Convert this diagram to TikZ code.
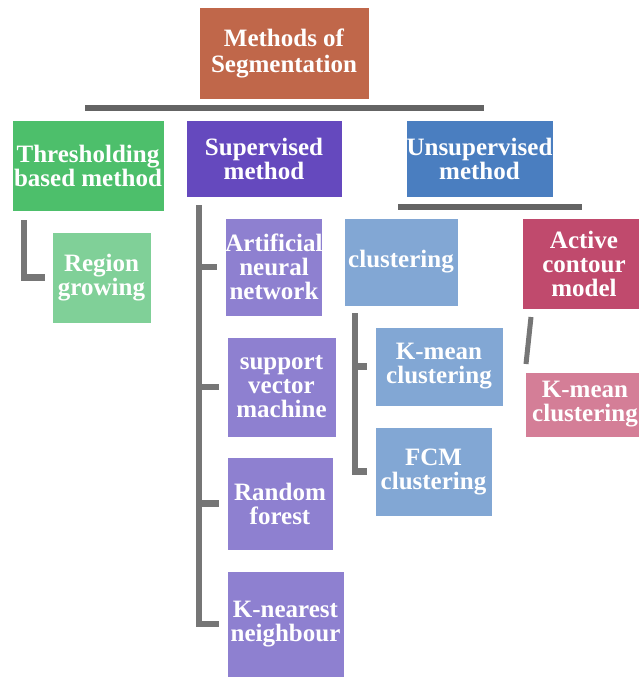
\documentclass[tikz,border=0pt]{standalone}
\usepackage{fontspec}
\setmainfont{Liberation Serif}
\definecolor{rootcol}{RGB}{192,103,74}
\definecolor{thrcol}{RGB}{77,191,107}
\definecolor{supcol}{RGB}{101,73,190}
\definecolor{unscol}{RGB}{74,126,192}
\definecolor{regcol}{RGB}{128,208,152}
\definecolor{leafcol}{RGB}{142,128,208}
\definecolor{clucol}{RGB}{130,167,212}
\definecolor{actcol}{RGB}{192,74,109}
\definecolor{pinkcol}{RGB}{212,126,151}
\definecolor{linkcol}{RGB}{118,118,118}
\tikzset{
  box/.style={rectangle, fill=#1, draw=white, line width=0.6pt, text=white,
    inner sep=0pt, align=center, font=\fontsize{25}{24}\selectfont\bfseries},
  link/.style={draw=linkcol, line width=6.5pt},
  bar/.style={draw=linkcol!85!black, line width=6.5pt}
}
\begin{document}
\begin{tikzpicture}[x=1pt, y=-1pt]
  \useasboundingbox (0,0) rectangle (638,677);
  % top level
  \node[box=rootcol, minimum width=170pt, minimum height=92pt,
    font=\fontsize{25}{26}\selectfont\bfseries] (root) at (284,53) {Methods of\\Segmentation};
  \draw[bar] (85,108) -- (484,108);
  % methods
  \node[box=thrcol, minimum width=152pt, minimum height=91pt] (thr) at (88,165.5) {Thresholding\\based method};
  \node[box=supcol, minimum width=156pt, minimum height=77pt] (sup) at (264,158.5) {Supervised\\method};
  \node[box=unscol, minimum width=147pt, minimum height=77pt] (uns) at (479.5,158.5) {Unsupervised\\method};
  \draw[bar] (398,207) -- (582,207);
  % thresholding branch
  \node[box=regcol, minimum width=99pt, minimum height=91pt] (reg) at (101.5,277.5) {Region\\growing};
  \coordinate (thrtop) at (24,220);
  \draw[link, shorten >=7pt] (thrtop) |- (reg.west);
  % supervised branch
  \node[box=leafcol, minimum width=96pt, minimum height=98pt] (ann) at (274,267) {Artificial\\neural\\network};
  \node[box=leafcol, minimum width=109pt, minimum height=100pt] (svm) at (281.5,387) {support\\vector\\machine};
  \node[box=leafcol, minimum width=106pt, minimum height=93pt] (rf) at (280,503.5) {Random\\forest};
  \node[box=leafcol, minimum width=117pt, minimum height=106pt] (knn) at (285.5,624) {K-nearest\\neighbour};
  \coordinate (suptop) at (199,205);
  \draw[link, shorten >=8pt] (suptop) |- (knn.west);
  \foreach \leaf in {ann,svm,rf}
    \draw[link, shorten >=8pt] (suptop |- \leaf.west) -- (\leaf.west);
  % unsupervised branch
  \node[box=clucol, minimum width=114pt, minimum height=88pt] (clu) at (401,262) {clustering};
  \node[box=actcol, minimum width=124pt, minimum height=91pt] (act) at (584,263.5) {Active\\contour\\model};
  \node[box=clucol, minimum width=128pt, minimum height=79pt] (kmean) at (439,366.5) {K-mean\\clustering};
  \node[box=clucol, minimum width=117pt, minimum height=89pt] (fcm) at (433.5,471.5) {FCM\\clustering};
  \node[box=pinkcol, minimum width=120pt, minimum height=65pt] (kmeanb) at (585,404.5) {K-mean\\clustering};
  \coordinate (clutop) at (355,313);
  \draw[link, shorten >=8pt] (clutop) |- (fcm.west);
  \draw[link, shorten >=8pt] (clutop |- kmean.west) -- (kmean.west);
  \coordinate (acttop) at (531,317);
  \coordinate (actend) at (526,364);
  \draw[link, line width=5pt] (acttop) -- (actend);
\end{tikzpicture}
\end{document}
